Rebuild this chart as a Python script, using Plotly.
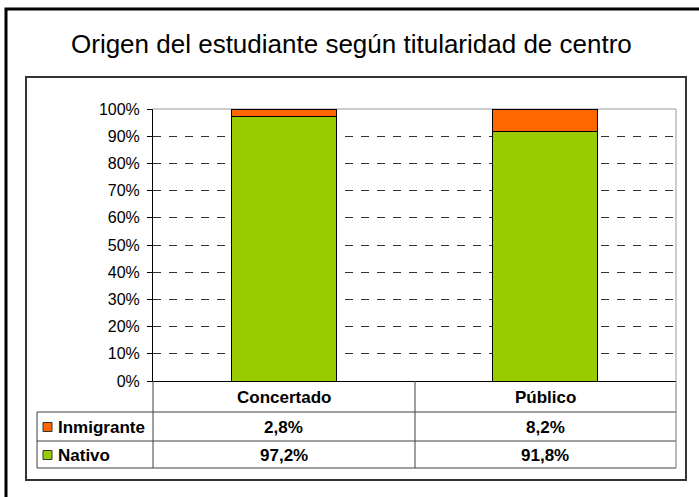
import plotly.graph_objects as go

categorias = ["Concertado", "Público"]
series = ["Inmigrante", "Nativo"]
inmigrante = [2.8, 8.2]
nativo = [97.2, 91.8]
ticks_y = [0, 10, 20, 30, 40, 50, 60, 70, 80, 90, 100]
ticks_grid = [10, 20, 30, 40, 50, 60, 70, 80, 90]

W, H = 699, 497
FONT = "Liberation Sans, Arial, sans-serif"
NARANJA = "#FF6600"
VERDE = "#99CC00"

# area de trazado en pixeles
PX0, PX1 = 153, 676
PY0, PY1 = 381, 109


def X(px):
    return px / W


def Y(py):
    return 1 - py / H


def pct(v):
    return ("%.1f%%" % v).replace(".", ",")


fig = go.Figure()
fig.add_trace(go.Bar(x=categorias, y=nativo, name="Nativo",
                     marker=dict(color=VERDE, line=dict(color="black", width=1))))
fig.add_trace(go.Bar(x=categorias, y=inmigrante, name="Inmigrante",
                     marker=dict(color=NARANJA, line=dict(color="black", width=1))))
# traza invisible solo para dibujar la rejilla discontinua
fig.add_trace(go.Scatter(x=categorias, y=nativo, yaxis="y2", mode="markers", opacity=0,
                         hoverinfo="skip", showlegend=False))

shapes = []
# marco exterior y marco del grafico
shapes.append(dict(type="rect", xref="paper", yref="paper", x0=X(6), x1=X(760), y0=Y(560), y1=Y(9),
                   line=dict(color="black", width=3)))
shapes.append(dict(type="rect", xref="paper", yref="paper", x0=X(26), x1=X(686), y0=Y(480), y1=Y(77),
                   line=dict(color="#333333", width=2)))
# borde gris del area de trazado (arriba y derecha)
shapes.append(dict(type="line", xref="paper", yref="paper", x0=X(PX0), x1=X(PX1), y0=Y(PY1), y1=Y(PY1),
                   line=dict(color="#9a9a9a", width=1), layer="below"))
shapes.append(dict(type="line", xref="paper", yref="paper", x0=X(PX1), x1=X(PX1), y0=Y(PY0), y1=Y(PY1),
                   line=dict(color="#9a9a9a", width=1), layer="below"))

# tabla de datos
tc = "#404040"
for py in [412, 441, 468]:
    shapes.append(dict(type="line", xref="paper", yref="paper", x0=X(37), x1=X(676), y0=Y(py), y1=Y(py),
                       line=dict(color=tc, width=1)))
shapes.append(dict(type="line", xref="paper", yref="paper", x0=X(37), x1=X(37), y0=Y(412), y1=Y(468),
                   line=dict(color=tc, width=1)))
for px in [153, 415, 676]:
    shapes.append(dict(type="line", xref="paper", yref="paper", x0=X(px), x1=X(px), y0=Y(381), y1=Y(468),
                       line=dict(color=tc if px != 676 else "#777777", width=1)))

annotations = []
annotations.append(dict(text="Origen del estudiante según titularidad de centro", xref="paper", yref="paper",
                        x=X(351), y=Y(44), showarrow=False, xanchor="center", yanchor="middle",
                        font=dict(family=FONT, size=26, color="black")))

paso = (PX1 - PX0) / len(categorias)
centros = [X(PX0 + (i + 0.5) * paso) for i in range(len(categorias))]
for c, xc in zip(categorias, centros):
    annotations.append(dict(text="<b>%s</b>" % c, xref="paper", yref="paper", x=xc, y=Y(397),
                            xanchor="center", yanchor="middle",
                            showarrow=False, font=dict(family=FONT, size=17, color="black")))

filas = {"Inmigrante": (inmigrante, NARANJA, 427), "Nativo": (nativo, VERDE, 455)}
for s in series:
    vals, col, py = filas[s]
    shapes.append(dict(type="rect", xref="paper", yref="paper", x0=X(43), x1=X(52), y0=Y(py + 4.5), y1=Y(py - 4.5),
                       fillcolor=col, line=dict(color="#333333", width=1)))
    annotations.append(dict(text="<b>%s</b>" % s, xref="paper", yref="paper", x=X(56), y=Y(py),
                            xanchor="left", yanchor="middle",
                            showarrow=False, font=dict(family=FONT, size=17, color="black")))
    for xc, v in zip(centros, vals):
        annotations.append(dict(text="<b>%s</b>" % pct(v), xref="paper", yref="paper", x=xc, y=Y(py),
                                xanchor="center", yanchor="middle",
                                showarrow=False, font=dict(family=FONT, size=17, color="black")))

fig.update_layout(
    width=W, height=H,
    margin=dict(l=0, r=0, t=0, b=0, pad=0, autoexpand=False),
    paper_bgcolor="white", plot_bgcolor="rgba(0,0,0,0)",
    barmode="stack", bargap=0.6,
    showlegend=False,
    shapes=shapes, annotations=annotations,
    xaxis=dict(domain=[X(PX0), X(PX1)], showticklabels=False, showline=True, linecolor="black",
               linewidth=1, ticks="", showgrid=False, fixedrange=True, automargin=False),
    yaxis=dict(domain=[Y(PY0), Y(PY1)], range=[0, 100], tickvals=ticks_y,
               ticktext=["%d%%" % v for v in ticks_y], ticklabelstandoff=4,
               showline=True, linecolor="black", linewidth=1, ticks="outside", ticklen=5,
               tickcolor="black", showgrid=False, zeroline=False, automargin=False,
               tickfont=dict(family=FONT, size=16, color="black")),
    yaxis2=dict(overlaying="y", range=[0, 100], tickvals=ticks_grid, showticklabels=False, ticks="",
                showgrid=True, gridcolor="#333333", griddash="8px,8px", zeroline=False, showline=False,
                automargin=False),
)

fig.write_html("out.html", config={"displayModeBar": False},
               post_script="document.body.style.margin='0';")
